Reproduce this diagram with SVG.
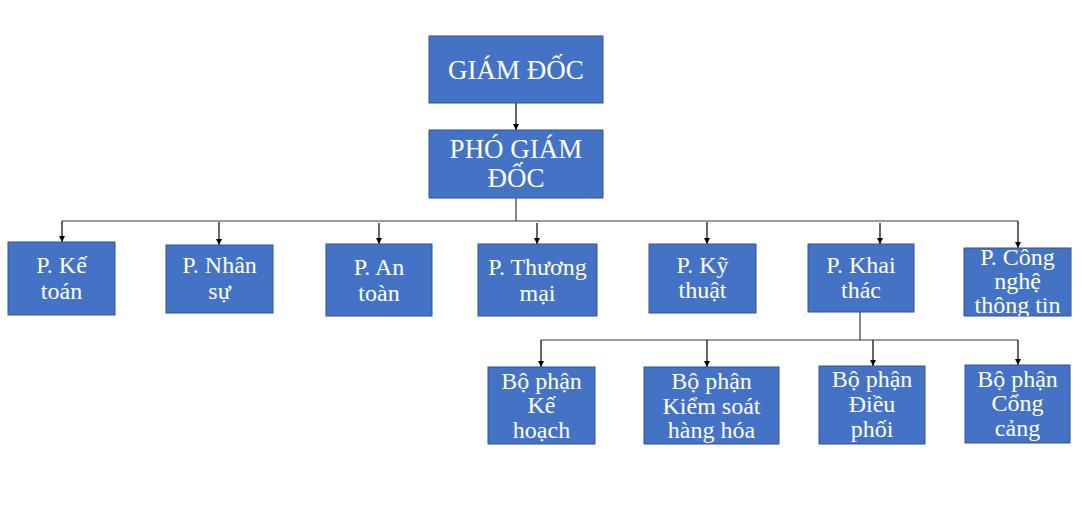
<svg xmlns="http://www.w3.org/2000/svg" width="1082" height="527" viewBox="0 0 1082 527">
  <style>
    .box { fill: #4472C4; stroke: #2F528F; stroke-width: 1; }
    .lbl { fill: #FFFFFF; font-family: "Liberation Serif", "Times New Roman", serif; font-size: 24px; text-anchor: middle; }
    .big { font-size: 27px; }
    .bus { fill: none; stroke: #3A3A3A; stroke-width: 1.2; }
    .arr { fill: none; stroke: #000000; stroke-width: 1.2; marker-end: url(#head); }
  </style>
  <defs>
    <marker id="head" viewBox="0 0 10 10" refX="10" refY="5" markerWidth="6" markerHeight="6" markerUnits="userSpaceOnUse" orient="auto">
      <path d="M0,0 L10,5 L0,10 Z" fill="#000000"/>
    </marker>
    <clipPath id="clip-cntt"><rect x="964" y="248" width="107" height="68"/></clipPath>
  </defs>
  <rect width="1082" height="527" fill="#FFFFFF"/>

  <g id="connectors">
    <!-- director to deputy -->
    <path class="arr" d="M516,103 L516,130"/>
    <!-- deputy to department bus -->
    <path class="bus" d="M516,198 L516,221 M62,221 L1018,221"/>
    <path class="arr" d="M62,221 L62,242"/>
    <path class="arr" d="M219,222 L219,245"/>
    <path class="arr" d="M379,223 L379,244"/>
    <path class="arr" d="M537,223 L537,244"/>
    <path class="arr" d="M707,222 L707,244"/>
    <path class="arr" d="M880,223 L880,244"/>
    <path class="arr" d="M1018,221 L1018,248"/>
    <!-- operations to sub-units -->
    <path class="bus" d="M860,312 L860,340 M541,340 L1018,340"/>
    <path class="arr" d="M541,340 L541,367"/>
    <path class="arr" d="M707,340 L707,367"/>
    <path class="arr" d="M873,340 L873,366"/>
    <path class="arr" d="M1018,340 L1018,365"/>
  </g>

  <g id="giam-doc">
    <rect class="box" x="429" y="36" width="174" height="67"/>
    <text class="lbl big" x="516" y="79">GIÁM ĐỐC</text>
  </g>
  <g id="pho-giam-doc">
    <rect class="box" x="429" y="130" width="174" height="68"/>
    <text class="lbl big" x="516" y="158">PHÓ GIÁM</text>
    <text class="lbl big" x="516" y="187">ĐỐC</text>
  </g>

  <g id="p-ke-toan">
    <rect class="box" x="8" y="242" width="107" height="73"/>
    <text class="lbl" x="61.5" y="273">P. Kế</text>
    <text class="lbl" x="61.5" y="299">toán</text>
  </g>
  <g id="p-nhan-su">
    <rect class="box" x="166" y="245" width="107" height="68"/>
    <text class="lbl" x="219.5" y="273">P. Nhân</text>
    <text class="lbl" x="219.5" y="299">sự</text>
  </g>
  <g id="p-an-toan">
    <rect class="box" x="326" y="244" width="106" height="72"/>
    <text class="lbl" x="379" y="275">P. An</text>
    <text class="lbl" x="379" y="301">toàn</text>
  </g>
  <g id="p-thuong-mai">
    <rect class="box" x="478" y="244" width="119" height="72"/>
    <text class="lbl" x="537.5" y="275">P. Thương</text>
    <text class="lbl" x="537.5" y="301">mại</text>
  </g>
  <g id="p-ky-thuat">
    <rect class="box" x="649" y="244" width="107" height="69"/>
    <text class="lbl" x="702.5" y="273">P. Kỹ</text>
    <text class="lbl" x="702.5" y="298">thuật</text>
  </g>
  <g id="p-khai-thac">
    <rect class="box" x="808" y="244" width="106" height="68"/>
    <text class="lbl" x="861" y="273">P. Khai</text>
    <text class="lbl" x="861" y="298">thác</text>
  </g>
  <g id="p-cong-nghe-thong-tin">
    <rect class="box" x="964" y="248" width="107" height="68"/>
    <g clip-path="url(#clip-cntt)">
      <text class="lbl" x="1017.5" y="265">P. Công</text>
      <text class="lbl" x="1017.5" y="289">nghệ</text>
      <text class="lbl" x="1017.5" y="313">thông tin</text>
    </g>
  </g>

  <g id="bp-ke-hoach">
    <rect class="box" x="488" y="367" width="107" height="77"/>
    <text class="lbl" x="541.5" y="389">Bộ phận</text>
    <text class="lbl" x="541.5" y="413">Kế</text>
    <text class="lbl" x="541.5" y="438">hoạch</text>
  </g>
  <g id="bp-kiem-soat-hang-hoa">
    <rect class="box" x="644" y="367" width="135" height="77"/>
    <text class="lbl" x="711.5" y="389">Bộ phận</text>
    <text class="lbl" x="711.5" y="414">Kiểm soát</text>
    <text class="lbl" x="711.5" y="438">hàng hóa</text>
  </g>
  <g id="bp-dieu-phoi">
    <rect class="box" x="819" y="366" width="106" height="78"/>
    <text class="lbl" x="872" y="387">Bộ phận</text>
    <text class="lbl" x="872" y="412">Điều</text>
    <text class="lbl" x="872" y="437">phối</text>
  </g>
  <g id="bp-cong-cang">
    <rect class="box" x="965" y="365" width="105" height="78"/>
    <text class="lbl" x="1017.5" y="387">Bộ phận</text>
    <text class="lbl" x="1017.5" y="411">Cổng</text>
    <text class="lbl" x="1017.5" y="436">cảng</text>
  </g>
</svg>
